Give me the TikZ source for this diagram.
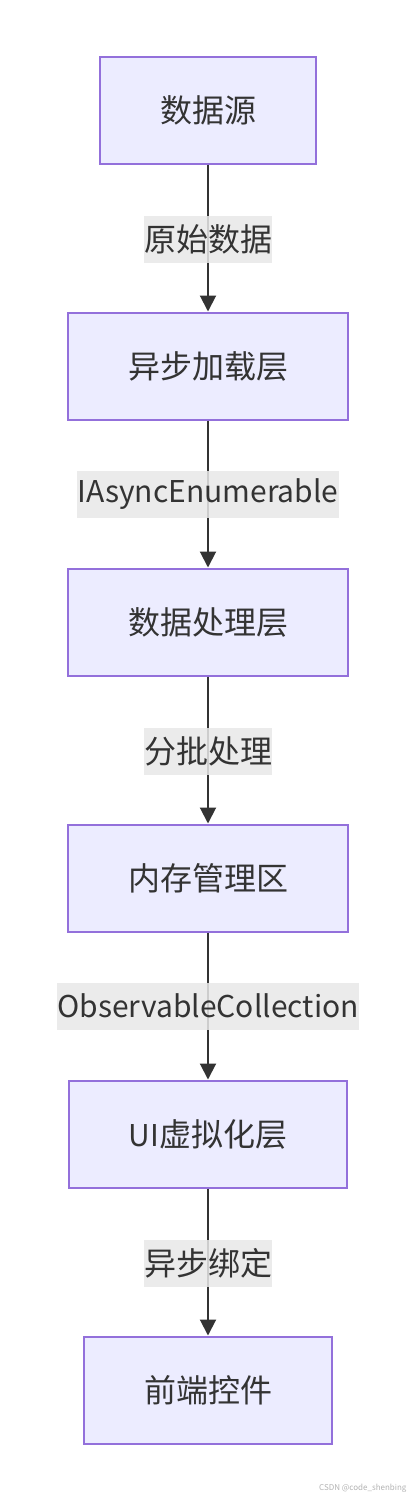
\documentclass[tikz,border=0pt]{standalone}
\usepackage{fontspec}
\setmainfont{Noto Sans CJK SC}
\usetikzlibrary{arrows.meta}
\definecolor{nodefill}{HTML}{ECECFF}
\definecolor{nodedraw}{HTML}{9370DB}
\definecolor{linec}{HTML}{333333}
\definecolor{lblbg}{HTML}{E8E8E8}
\newcommand{\cjkfs}{\fontsize{32}{36}\selectfont}
\newcommand{\latfs}{\fontsize{30}{36}\selectfont}
\tikzset{
  box/.style={draw=nodedraw, fill=nodefill, line width=2pt, minimum height=107pt,
    text=linec, font=\cjkfs, inner sep=0pt},
  lbl/.style={fill=lblbg, fill opacity=0.85, text opacity=1, text=linec,
    font=\cjkfs, inner xsep=0pt, minimum height=47pt, inner ysep=0pt},
  latlbl/.style={lbl, font=\latfs},
  conn/.style={draw=linec, line width=2pt, -{Triangle[length=16pt,width=16pt]}},
}
\begin{document}
\begin{tikzpicture}[x=1pt,y=-1pt]
\useasboundingbox (0,0) rectangle (416,1500);
\node[box, minimum width=216pt] (n1) at (208,110) {数据源};
\node[box, minimum width=280pt] (n2) at (208,366) {异步加载层};
\node[box, minimum width=280pt] (n3) at (208,622) {数据处理层};
\node[box, minimum width=280pt] (n4) at (208,878) {内存管理区};
\node[box, minimum width=278pt] (n5) at (208,1134) {{\latfs UI}虚拟化层};
\node[box, minimum width=248pt] (n6) at (208,1390) {前端控件};
\draw[conn] (n1) -- node[lbl, pos=0.51] (l1) {原始数据} (n2);
\draw[conn] (n2) -- node[latlbl, pos=0.50] (l2) {IAsyncEnumerable} (n3);
\draw[conn] (n3) -- node[lbl, pos=0.51] (l3) {分批处理} (n4);
\draw[conn] (n4) -- node[latlbl, pos=0.50] (l4) {ObservableCollection} (n5);
\draw[conn] (n5) -- node[lbl, pos=0.51] (l5) {异步绑定} (n6);
\node[text=black!30, font=\fontsize{8}{10}\selectfont, anchor=east] (wm) at (410,1488) {CSDN @code\_shenbing};
\end{tikzpicture}
\end{document}
